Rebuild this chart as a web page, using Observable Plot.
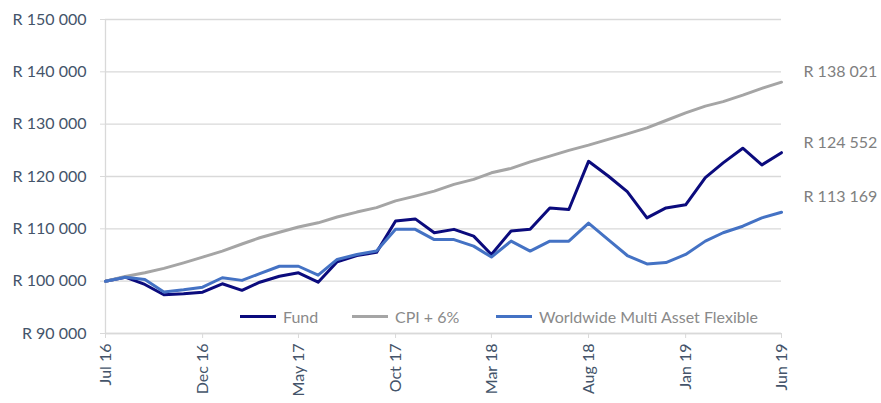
<!DOCTYPE html>
<html><head><meta charset="utf-8">
<script src="https://cdn.jsdelivr.net/npm/d3@7"></script>
<script src="https://cdn.jsdelivr.net/npm/@observablehq/plot@0.6"></script>
<style>
body{margin:0;background:#fff;}
#wrap{position:relative;width:881px;height:403px;font-family:Lato,sans-serif;}
.lg{position:absolute;top:307px;height:18px;display:flex;align-items:center;font-size:16px;color:#8a8a8a;white-space:nowrap;}
.sw{display:inline-block;width:36px;height:3px;margin-right:7px;}
</style></head>
<body><div id="wrap"></div>
<script>
const months = ["2016-07","2016-08","2016-09","2016-10","2016-11","2016-12",
"2017-01","2017-02","2017-03","2017-04","2017-05","2017-06","2017-07","2017-08","2017-09","2017-10","2017-11","2017-12",
"2018-01","2018-02","2018-03","2018-04","2018-05","2018-06","2018-07","2018-08","2018-09","2018-10","2018-11","2018-12",
"2019-01","2019-02","2019-03","2019-04","2019-05","2019-06"];
const fund = [100000,100760,99370,97400,97600,97900,
99500,98250,99800,100950,101600,99800,103700,104900,105500,111500,111900,109250,
109900,108600,105100,109600,109900,114000,113700,122900,120100,117100,112100,114000,
114600,119800,122600,125400,122200,124552];
const cpi = [100000,100900,101600,102450,103500,104600,
105750,107100,108300,109350,110350,111150,112250,113200,114050,115350,116250,117200,
118500,119450,120700,121550,122800,123900,125000,126000,127100,128150,129300,130700,
132150,133450,134300,135550,136850,138021];
const wmaf = [100000,100760,100300,97950,98350,98850,
100650,100150,101450,102850,102850,101150,104150,105100,105750,109900,109900,107950,
107950,106700,104600,107650,105750,107650,107650,111100,107950,104900,103300,103550,
105100,107650,109250,110500,112100,113169];
const seriesNames = ["Fund","CPI + 6%","Worldwide Multi Asset Flexible"];
const colors = ["#0b0b7d","#a5a5a5","#4472c4"];
const tickMonths = ["2016-07","2016-12","2017-05","2017-10","2018-03","2018-08","2019-01","2019-06"];
const yTicks = [90000,100000,110000,120000,130000,140000,150000];
const endLabels = ["R 138 021","R 124 552","R 113 169"];
const endValues = [138021,124552,113169];

const parse = d3.utcParse("%Y-%m");
const seriesVals = [fund,cpi,wmaf];
const data = [];
seriesNames.forEach((s,i)=>months.forEach((m,j)=>data.push({date:parse(m),value:seriesVals[i][j],series:s})));
const fmtR = d => "R " + d3.format(",")(d).replace(/,/g," ");
const fmtM = d3.utcFormat("%b %y");
const last = parse(months[months.length-1]);
const endDy = [-10,-10,-15];

const chart = Plot.plot({
  width:881, height:403, marginLeft:105, marginRight:100, marginTop:19, marginBottom:70,
  style:{fontFamily:"Lato, sans-serif", fontSize:"16px", color:"#44546a", background:"#fff"},
  x:{type:"utc", domain:[parse(months[0]), last]},
  y:{domain:[90000,150000]},
  color:{domain:seriesNames, range:colors},
  marks:[
    Plot.gridY(yTicks,{stroke:"#d9d9d9", strokeOpacity:1, strokeWidth:1.3}),
    Plot.ruleX([parse(months[0])],{stroke:"#d9d9d9", strokeWidth:1.3}),
    Plot.ruleY([90000],{stroke:"#d9d9d9", strokeWidth:1.3}),
    Plot.axisY(yTicks,{tickFormat:fmtR, tickSize:5, tickPadding:14, stroke:"#d9d9d9", fill:"#44546a", fontSize:16, label:null}),
    Plot.axisX(tickMonths.map(parse),{tickFormat:fmtM, tickRotate:-90, tickSize:5, tickPadding:5, stroke:"#d9d9d9", fill:"#44546a", fontSize:16, label:null}),
    Plot.line(data,{x:"date",y:"value",z:"series",stroke:"series",strokeWidth:3}),
    ...endLabels.map((t,i)=>Plot.text([t],{x:()=>last, y:()=>endValues[i], text:d=>d, dx:22, dy:endDy[i], textAnchor:"start", fill:"#7f7f7f", fontSize:16}))
  ]
});
const wrap = document.getElementById("wrap");
wrap.appendChild(chart);
const legendX = [240,352,496];
seriesNames.forEach((s,i)=>{
  const d = document.createElement("div");
  d.className = "lg";
  d.style.left = legendX[i] + "px";
  d.innerHTML = `<span class="sw" style="background:${colors[i]}"></span><span>${s}</span>`;
  wrap.appendChild(d);
});
</script>
</body></html>
